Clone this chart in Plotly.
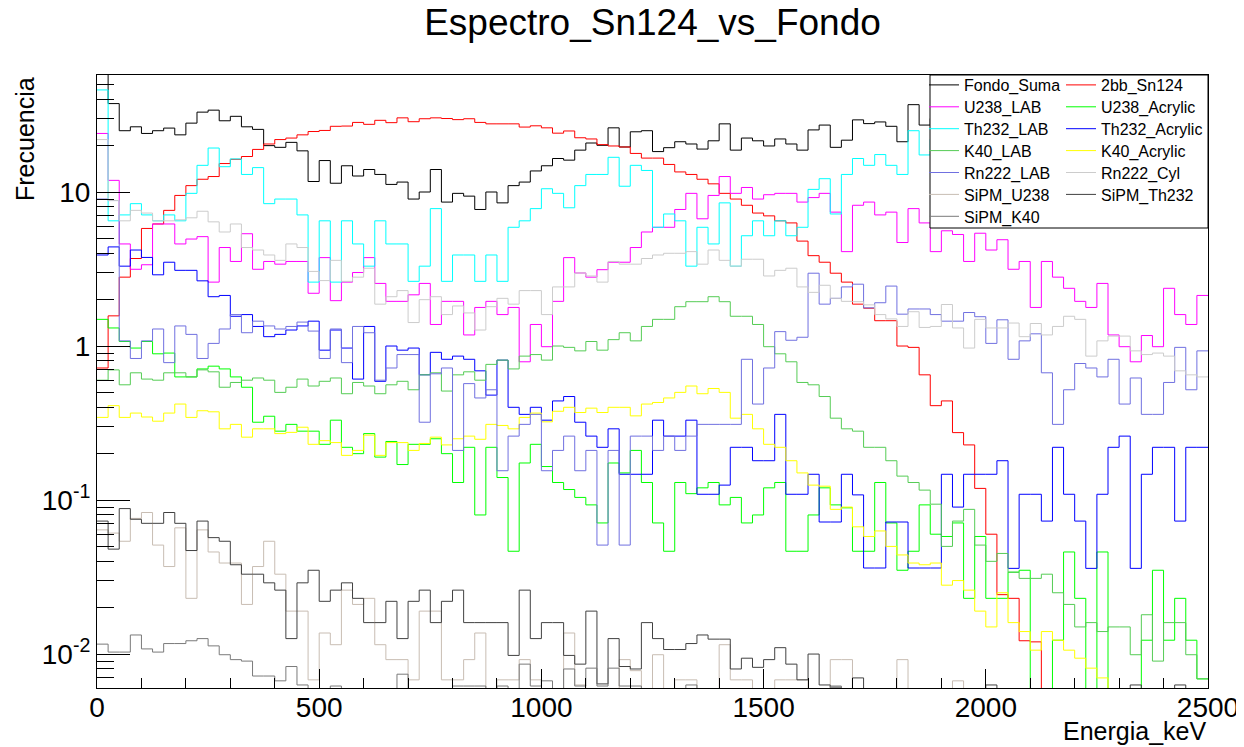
import numpy as np
import plotly.graph_objects as go

# ---------------- binning (axis definition) ----------------
E_MIN, E_MAX, BIN_W = 0, 2500, 25
edges = np.arange(E_MIN, E_MAX + BIN_W, BIN_W)

# ---------------- data: counts per 25 keV bin (100 bins) ----------------
fondo_suma = [70, 37.5, 25, 26.5, 24, 25, 26, 23.5, 28, 33,
              34, 29, 31, 26.5, 25.5, 20, 19.5, 21, 18.5, 11.7,
              16, 11.4, 14.8, 12.7, 14, 13, 11.2, 11.6, 9.0, 10.0,
              14.0, 8.6, 9.8, 9.4, 7.7, 10.0, 8.5, 11.0, 11.6, 13.7,
              14.8, 16.5, 16.1, 18.7, 20.8, 20.1, 26.1, 19.6, 24.6, 25,
              18.3, 19.4, 21.2, 20.5, 19.0, 21.5, 27.7, 18.7, 22.4, 21.5,
              19.9, 22.1, 20.5, 18.7, 25.3, 27.2, 19.5, 21.7, 29.4, 27.8,
              28.5, 26.7, 21.2, 36.9, 27.2, 30, 26, 24, 28, 22,
              25, 21, 23, 19, 22, 18, 20, 17, 19, 16,
              18, 15, 16, 14, 15, 13, 14, 12, 13, 12]

bb_sn124 = [0.72, 1.57, 2.8, 3.7, 5.8, 6.2, 7.6, 9.5, 11.0, 12.1,
            12.6, 15.3, 16.3, 17.0, 18.9, 20.5, 21.9, 22.4, 23.5, 24.7,
            25.1, 26.7, 26.8, 28.3, 27.5, 29.2, 28.2, 30.3, 28.6, 29.9,
            30.3, 30.0, 29.5, 29.9, 28.3, 27.7, 27.7, 27.7, 26.4, 26.9,
            26.1, 24.1, 24.9, 22.5, 22.1, 20.3, 19.9, 19.6, 17.8, 16.6,
            16.6, 15.1, 13.5, 13.0, 12.1, 11.3, 9.8, 9.0, 8.2, 7.3,
            7.0, 6.5, 6.3, 4.8, 3.86, 3.5, 2.97, 2.6, 1.87, 1.76,
            1.46, 1.46, 1.0, 0.98, 0.65, 0.41, 0.44, 0.274, 0.228, 0.119,
            0.060, 0.0243, 0.023, 0.0122, 0.012, 0, 0, 0, 0, 0,
            0, 0, 0, 0, 0, 0, 0, 0, 0, 0]

u238_lab = [24, 11.9, 4.6, 3.15, 3.37, 6.2, 6.2, 4.6, 4.95, 5.13,
            2.6, 4.36, 3.54, 5.36, 3.15, 3.54, 3.4, 3.54, 3.54, 2.2,
            3.75, 1.97, 2.6, 3.0, 3.75, 2.55, 1.95, 1.95, 2.15, 2.55,
            1.38, 1.95, 1.95, 1.18, 1.78, 1.95, 1.6, 1.78, 0.79, 1.38,
            0.99, 1.95, 3.75, 2.98, 2.8, 3.13, 3.5, 3.5, 4.36, 5.5,
            5.9, 5.9, 7.7, 9.8, 6.7, 9.5, 12.6, 9.8, 10.7, 9.0,
            9.6, 9.8, 9.8, 8.6, 9.2, 9.8, 7.4, 4.1, 8.2, 8.6,
            7.1, 7.4, 4.7, 7.8, 6.3, 4.1, 5.6, 5.3, 3.54, 5.4,
            4.2, 4.9, 3.15, 3.54, 1.78, 3.54, 2.8, 2.37, 1.95, 1.78,
            2.55, 1.18, 0.99, 0.79, 1.17, 0.99, 2.37, 1.6, 1.38, 2.13]

u238_acrylic = [1.49, 1.31, 1.07, 0.97, 1.07, 0.89, 0.90, 0.63, 0.63, 0.71,
                0.74, 0.71, 0.63, 0.54, 0.32, 0.35, 0.28, 0.31, 0.28, 0.28,
                0.23, 0.33, 0.22, 0.2, 0.27, 0.19, 0.24, 0.17, 0.23, 0.23,
                0.25, 0.2, 0.13, 0.22, 0.080, 0.22, 0.14, 0.0465, 0.174, 0.23,
                0.165, 0.13, 0.117, 0.104, 0.093, 0.071, 0.174, 0.15, 0.21, 0.13,
                0.071, 0.0465, 0.13, 0.11, 0.12, 0.13, 0.093, 0.104, 0.071, 0.08,
                0.12, 0.13, 0.0465, 0.0465, 0.08, 0.12, 0.093, 0.089, 0.0465, 0.0465,
                0.13, 0.071, 0.035, 0.0465, 0.093, 0.06, 0.058, 0.071, 0.023, 0.058,
                0.023, 0.023, 0.034, 0.035, 0, 0, 0.0123, 0.046, 0.023, 0,
                0.046, 0, 0, 0, 0.0123, 0.035, 0.0123, 0.023, 0.0123, 0.0069]

th232_lab = [46, 6.5, 7.1, 8.4, 7.1, 6.5, 7.1, 6.5, 9.8, 14.9,
             19.3, 14.6, 16.4, 13.0, 14.4, 8.4, 9.0, 9.0, 7.1, 2.6,
             6.5, 2.6, 6.5, 4.6, 3.3, 6.5, 4.6, 4.6, 2.63, 3.3,
             7.8, 2.63, 3.9, 3.9, 2.63, 3.9, 2.63, 5.9, 6.5, 7.8,
             10.5, 9.8, 7.9, 11.0, 13.0, 13.0, 16.8, 10.9, 14.9, 13.8,
             5.9, 7.2, 6.5, 3.3, 5.9, 4.6, 8.5, 3.3, 5.2, 6.5,
             5.2, 6.5, 5.2, 5.9, 10.4, 12.2, 7.2, 13.0, 16.5, 14.9,
             17.5, 14.9, 13.0, 25.0, 17.4, 22, 16, 19, 14, 17,
             12, 15, 11, 13, 10, 12, 9.5, 11, 9, 10,
             8.5, 9.5, 8, 9, 7.5, 8.5, 7.5, 8, 7, 7.5]

th232_acrylic = [3.9, 4.4, 3.3, 4.2, 3.76, 2.9, 3.5, 3.1, 3.1, 2.65,
                 2.09, 2.13, 1.56, 1.6, 1.34, 1.15, 1.19, 1.27, 1.35, 1.45,
                 0.94, 1.27, 0.97, 0.61, 1.34, 0.59, 1.0, 0.94, 0.97, 0.65,
                 0.91, 0.82, 0.86, 0.82, 0.69, 0.48, 0.81, 0.40, 0.36, 0.40,
                 0.33, 0.44, 0.47, 0.32, 0.26, 0.22, 0.29, 0.147, 0.147, 0.147,
                 0.33, 0.26, 0.26, 0.33, 0.109, 0.109, 0.125, 0.22, 0.22, 0.18,
                 0.18, 0.36, 0.109, 0.109, 0.147, 0.072, 0.072, 0.147, 0.108, 0.0362,
                 0.0362, 0.072, 0.072, 0.0362, 0.0362, 0.0362, 0.147, 0.09, 0.147, 0.147,
                 0.147, 0.18, 0.036, 0.109, 0.109, 0.073, 0.22, 0.109, 0.073, 0.036,
                 0.109, 0.22, 0.26, 0.036, 0.147, 0.22, 0.22, 0.073, 0.22, 0.22]

k40_lab = [0.60, 0.70, 0.56, 0.67, 0.61, 0.60, 0.67, 0.67, 0.63, 0.70,
           0.68, 0.54, 0.58, 0.60, 0.62, 0.60, 0.50, 0.54, 0.61, 0.55,
           0.59, 0.62, 0.49, 0.58, 0.55, 0.49, 0.56, 0.59, 0.52, 0.65,
           0.67, 0.51, 0.65, 0.68, 0.60, 0.76, 0.81, 0.71, 0.86, 0.88,
           0.81, 1.0, 0.98, 0.93, 1.07, 0.94, 1.1, 1.22, 1.08, 1.34,
           1.49, 1.49, 1.8, 1.94, 1.94, 2.09, 1.94, 1.56, 1.56, 1.38,
           0.99, 0.89, 0.79, 0.58, 0.56, 0.47, 0.34, 0.29, 0.28, 0.22,
           0.22, 0.18, 0.143, 0.13, 0.116, 0.094, 0.05, 0.073, 0.087, 0.051,
           0.04, 0.045, 0.034, 0.031, 0.031, 0.033, 0.025, 0.021, 0.015, 0.016,
           0.014, 0.015, 0.015, 0.0099, 0.018, 0.009, 0.016, 0.016, 0.0099, 0.0069]

k40_acrylic = [0.344, 0.41, 0.344, 0.367, 0.346, 0.325, 0.367, 0.42, 0.344, 0.38,
               0.374, 0.29, 0.31, 0.256, 0.29, 0.29, 0.27, 0.275, 0.297, 0.23,
               0.243, 0.236, 0.195, 0.21, 0.264, 0.195, 0.236, 0.236, 0.21, 0.233,
               0.256, 0.228, 0.25, 0.26, 0.248, 0.31, 0.305, 0.29, 0.344, 0.367,
               0.322, 0.377, 0.40, 0.37, 0.395, 0.37, 0.40, 0.40, 0.352, 0.42,
               0.43, 0.46, 0.50, 0.55, 0.49, 0.53, 0.50, 0.34, 0.36, 0.29,
               0.23, 0.22, 0.18, 0.15, 0.125, 0.123, 0.087, 0.09, 0.067, 0.058,
               0.063, 0.05, 0.044, 0.039, 0.038, 0.039, 0.028, 0.030, 0.026, 0.019,
               0.015, 0.025, 0.016, 0.014, 0.0106, 0.014, 0.0123, 0.0106, 0.0094, 0.0081,
               0.007, 0, 0, 0, 0, 0, 0, 0, 0, 0]

rn222_lab = [9.0, 8.8, 1.08, 0.83, 1.08, 1.29, 0.78, 1.35, 1.19, 0.83,
             1.04, 1.29, 1.6, 1.22, 1.45, 1.35, 1.29, 1.34, 1.43, 1.25,
             0.83, 1.29, 0.78, 1.34, 1.22, 0.60, 0.72, 0.88, 0.88, 0.32,
             0.66, 0.72, 0.21, 0.57, 0.46, 0.52, 0.155, 0.26, 0.31, 0.36,
             0.155, 0.21, 0.26, 0.155, 0.21, 0.051, 0.21, 0.051, 0.26, 0.26,
             0.21, 0.26, 0.21, 0.26, 0.31, 0.31, 0.31, 0.31, 0.82, 0.42,
             0.72, 1.24, 1.09, 1.14, 2.97, 1.87, 2.04, 2.42, 2.52, 1.77,
             1.91, 2.45, 1.61, 1.74, 1.74, 1.6, 1.45, 1.45, 1.65, 1.55,
             1.04, 1.48, 0.82, 1.08, 1.2, 0.67, 0.31, 0.52, 0.77, 0.72,
             0.63, 0.82, 0.42, 0.62, 0.36, 0.36, 0.58, 0.98, 0.52, 0.93]

rn222_cyl = [21.9, 8.8, 6.5, 7.6, 7.3, 6.5, 6.5, 6.6, 6.8, 7.5,
             6.4, 5.5, 6.2, 4.36, 4.2, 3.9, 3.6, 4.6, 4.36, 3.05,
             2.66, 3.6, 2.63, 2.8, 3.2, 1.87, 2.09, 2.29, 1.42, 2.0,
             2.09, 1.6, 1.82, 1.64, 1.27, 1.8, 2.04, 1.87, 2.29, 2.29,
             1.6, 2.42, 2.42, 2.98, 2.85, 2.6, 3.54, 3.4, 3.4, 3.7,
             3.9, 4.0, 4.0, 4.1, 3.4, 4.2, 3.6, 3.3, 3.66, 3.66,
             2.85, 3.1, 3.2, 2.42, 2.23, 2.48, 2.04, 1.95, 1.94, 1.85,
             1.6, 1.5, 1.34, 1.67, 1.32, 1.34, 1.86, 1.31, 0.97, 1.49,
             1.31, 1.31, 1.41, 1.15, 1.40, 1.18, 1.34, 1.56, 1.49, 0.86,
             1.08, 1.16, 1.16, 0.93, 0.88, 0.9, 0.86, 0.69, 0.65, 0.63]

sipm_u238 = [0.064, 0.061, 0.054, 0.076, 0.083, 0.051, 0.037, 0.066, 0.023, 0.064,
             0.046, 0.039, 0.039, 0.021, 0.037, 0.054, 0.033, 0.019, 0.019, 0.0068,
             0.0137, 0.0115, 0.026, 0.021, 0.023, 0.0115, 0.0092, 0.0092, 0.0068, 0.019,
             0.019, 0.0068, 0.0068, 0.0092, 0.0137, 0, 0.0068, 0.0068, 0.0092, 0.0068,
             0, 0, 0.0137, 0.0063, 0, 0, 0, 0.0092, 0.0078, 0,
             0.0099, 0, 0.0068, 0.0068, 0, 0, 0.0115, 0.0068, 0.0068, 0,
             0, 0.0068, 0.0068, 0.0068, 0, 0, 0.0092, 0.0092, 0, 0,
             0, 0, 0.0092, 0, 0, 0, 0, 0.0067, 0, 0,
             0, 0, 0, 0, 0, 0, 0, 0, 0, 0,
             0, 0, 0, 0, 0, 0, 0, 0, 0, 0]

sipm_th232 = [0.073, 0.048, 0.088, 0.075, 0.0706, 0.0706, 0.083, 0.0706, 0.047, 0.073,
              0.057, 0.054, 0.038, 0.033, 0.033, 0.029, 0.026, 0.0126, 0.029, 0.035,
              0.022, 0.026, 0.029, 0.023, 0.016, 0.016, 0.022, 0.0126, 0.022, 0.026,
              0.016, 0.022, 0.026, 0.016, 0.016, 0.016, 0.016, 0.0098, 0.026, 0.0126,
              0.016, 0.016, 0.0098, 0.0086, 0.019, 0.0064, 0.0126, 0.0083, 0.008, 0.016,
              0.0126, 0.0107, 0.0107, 0.0117, 0.0133, 0.0125, 0.0125, 0.008, 0.0094, 0.0082,
              0.0092, 0.011, 0.0086, 0.0068, 0.01, 0.0063, 0.0061, 0, 0.007, 0,
              0, 0, 0, 0, 0, 0, 0, 0, 0, 0,
              0.0063, 0, 0, 0, 0, 0, 0, 0, 0, 0,
              0, 0, 0, 0.0063, 0, 0, 0, 0.0063, 0, 0]

sipm_k40 = [0.0116, 0.0103, 0.0103, 0.0133, 0.0108, 0.0103, 0.0117, 0.0117, 0.0122, 0.0126,
            0.0113, 0.0099, 0.0092, 0.0090, 0.0072, 0.0072, 0.0067, 0.0083, 0.0063, 0,
            0, 0.0062, 0, 0, 0, 0, 0, 0.0074, 0, 0,
            0, 0, 0.0062, 0.0062, 0.0062, 0, 0.0062, 0, 0.0086, 0.0062,
            0.0067, 0, 0.008, 0.0062, 0.0081, 0.0062, 0.0081, 0.0062, 0.0062, 0,
            0, 0, 0, 0.0063, 0, 0, 0, 0, 0, 0,
            0, 0, 0, 0, 0, 0, 0.0062, 0, 0, 0,
            0, 0, 0, 0, 0, 0, 0, 0, 0, 0,
            0, 0, 0, 0, 0, 0, 0, 0, 0, 0,
            0, 0, 0, 0, 0, 0, 0, 0, 0, 0]

series_names = ["Fondo_Suma", "2bb_Sn124", "U238_LAB", "U238_Acrylic", "Th232_LAB",
                "Th232_Acrylic", "K40_LAB", "K40_Acrylic", "Rn222_LAB", "Rn222_Cyl",
                "SiPM_U238", "SiPM_Th232", "SiPM_K40"]
series_values = [fondo_suma, bb_sn124, u238_lab, u238_acrylic, th232_lab,
                 th232_acrylic, k40_lab, k40_acrylic, rn222_lab, rn222_cyl,
                 sipm_u238, sipm_th232, sipm_k40]
series_colors = ["#000000", "#ff0000", "#ff00ff", "#00ff00", "#00ffff",
                 "#0000ff", "#55cc55", "#ffff00", "#7070e0", "#cccccc",
                 "#c8bdb3", "#404040", "#7a7a7a"]

Y_MIN, Y_MAX = 0.00602, 57.5
FLOOR = 1e-4  # empty bins drawn at the bottom of the pad (below range)

# ---------------- geometry (page pixels; the page body adds an 8 px offset) ----------------
OFF = 8
W, H = 1244 - OFF, 747 - OFF
plot_l, plot_r, plot_t, plot_b = 97, 1208, 75, 688      # reference page pixels
pw, ph = plot_r - plot_l, plot_b - plot_t

def px_to_paper_x(X):
    return (X - plot_l) / pw

def px_to_paper_y(Y):
    return (plot_b - Y) / ph

FONT = "Liberation Sans, Arial, Helvetica, sans-serif"
LEG_FONT = dict(family=FONT, size=16, color="black")
ROW0, ROW_DY = 85.0, 21.9
COL_X = [924, 1061]

fig = go.Figure()
legend_layouts = {}
for i, (name, vals, col) in enumerate(zip(series_names, series_values, series_colors)):
    assert len(vals) == len(edges) - 1, name
    v = np.maximum(np.asarray(vals, dtype=float), FLOOR)
    y = np.append(v, v[-1])
    leg_id = "legend" if i == 0 else f"legend{i + 1}"
    fig.add_trace(go.Scatter(
        x=edges, y=y, mode="lines", name=name,
        line=dict(color=col, width=1, shape="hv"),
        legend=leg_id, hoverinfo="skip",
    ))
    row, colidx = divmod(i, 2)
    legend_layouts[leg_id] = dict(
        x=px_to_paper_x(COL_X[colidx]), y=px_to_paper_y(ROW0 + ROW_DY * row),
        xanchor="left", yanchor="middle", bgcolor="rgba(0,0,0,0)",
        borderwidth=0, font=LEG_FONT, tracegroupgap=0)

major_y = [0.01, 0.1, 1, 10]
minor_y = [m * d for d in [0.001, 0.01, 0.1, 1, 10] for m in range(2, 10)]

fig.update_layout(
    width=W, height=H,
    margin=dict(l=plot_l - OFF, r=W - (plot_r - OFF), t=plot_t - OFF, b=H - (plot_b - OFF),
                autoexpand=False),
    paper_bgcolor="white", plot_bgcolor="white",
    font=dict(family=FONT, color="black"),
    title=dict(text="Espectro_Sn124_vs_Fondo", x=0.5, xref="paper", xanchor="center",
               y=1 - (22 - OFF) / H, yref="container", yanchor="middle",
               font=dict(family=FONT, size=37, color="black")),
    xaxis=dict(range=[E_MIN, E_MAX], showline=True, mirror=True, linecolor="black", linewidth=1,
               ticks="inside", ticklen=19, tickwidth=1, tickcolor="black",
               tickmode="array", tickvals=[0, 500, 1000, 1500, 2000, 2500],
               tickfont=dict(family=FONT, size=28, color="black"), ticklabelstandoff=-6,
               showgrid=False, zeroline=False,
               minor=dict(ticks="inside", ticklen=10, tickwidth=1, tickcolor="black",
                          tickmode="array", tickvals=list(range(0, 2501, 100)), showgrid=False)),
    yaxis=dict(type="log", range=[np.log10(Y_MIN), np.log10(Y_MAX)],
               showline=True, mirror=True, linecolor="black", linewidth=1,
               ticks="inside", ticklen=33, tickwidth=1, tickcolor="black",
               tickmode="array", tickvals=major_y,
               ticktext=["10<sup>-2</sup>", "10<sup>-1</sup>", "1", "10"],
               tickfont=dict(family=FONT, size=28, color="black"),
               showgrid=False, zeroline=False,
               minor=dict(ticks="inside", ticklen=17, tickwidth=1, tickcolor="black",
                          tickmode="array", tickvals=minor_y, showgrid=False)),
    shapes=[dict(type="rect", xref="paper", yref="paper",
                 x0=px_to_paper_x(930), x1=1.0, y0=px_to_paper_y(228), y1=1.0,
                 fillcolor="white", line=dict(color="black", width=1), layer="above")],
    annotations=[
        dict(text="Energia_keV", xref="paper", yref="paper", x=1.0, xanchor="right",
             y=px_to_paper_y(731), yanchor="middle", showarrow=False,
             font=dict(family=FONT, size=25, color="black")),
        dict(text="Frecuencia", xref="paper", yref="paper", x=px_to_paper_x(25),
             xanchor="center", y=1.0, yanchor="top", textangle=-90, showarrow=False,
             font=dict(family=FONT, size=25, color="black")),
    ],
    showlegend=True,
    **legend_layouts,
)

fig.write_html("out.html")
